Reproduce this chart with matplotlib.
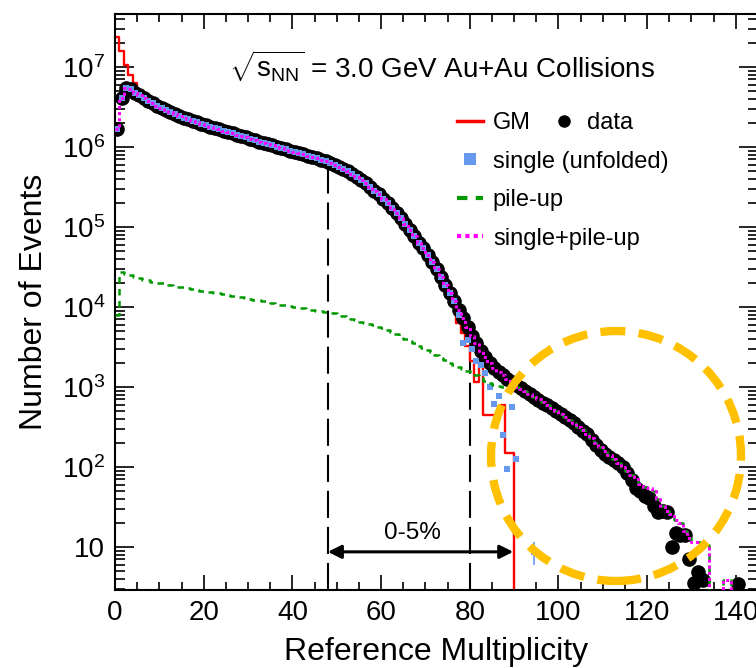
import numpy as np
import matplotlib.pyplot as plt
from matplotlib.lines import Line2D
from matplotlib.patches import Ellipse
from matplotlib.ticker import FixedLocator, FixedFormatter, MultipleLocator, LogLocator

plt.rcParams['font.family'] = ['Liberation Sans', 'DejaVu Sans']
plt.rcParams['mathtext.fontset'] = 'custom'
plt.rcParams['mathtext.rm'] = 'Liberation Sans'
plt.rcParams['mathtext.it'] = 'Liberation Sans:italic'
plt.rcParams['mathtext.bf'] = 'Liberation Sans:bold'

nan = np.nan

# measured refmult distribution, one value per unit bin (0..140)
data_counts = [
    1.7e6, 4.1e6, 5.4e6, 5.3e6, 4.8e6, 4.5e6, 4.15e6, 3.8e6, 3.5e6, 3.25e6,
    3.05e6, 2.88e6, 2.72e6, 2.57e6, 2.45e6, 2.33e6, 2.22e6, 2.12e6, 2.03e6, 1.95e6,
    1.87e6, 1.8e6, 1.73e6, 1.66e6, 1.6e6, 1.54e6, 1.48e6, 1.42e6, 1.37e6, 1.32e6,
    1.27e6, 1.22e6, 1.17e6, 1.13e6, 1.09e6, 1.05e6, 1.01e6, 9.7e5, 9.35e5, 9.0e5,
    8.7e5, 8.4e5, 8.1e5, 7.8e5, 7.5e5, 7.2e5, 6.9e5, 6.6e5, 6.3e5, 6.0e5,
    5.65e5, 5.3e5, 4.95e5, 4.6e5, 4.25e5, 3.9e5, 3.55e5, 3.2e5, 2.85e5, 2.55e5,
    2.25e5, 2.0e5, 1.75e5, 1.5e5, 1.3e5, 1.1e5, 9.2e4, 7.7e4, 6.4e4, 5.4e4,
    4.5e4, 3.7e4, 3.0e4, 2.4e4, 1.9e4, 1.5e4, 1.2e4, 9.2e3, 7.2e3, 5.6e3,
    4.4e3, 3.5e3, 2.8e3, 2.35e3, 2.0e3, 1.75e3, 1.55e3, 1.4e3, 1.27e3, 1.15e3,
    1.05e3, 960, 880, 810, 750, 690, 640, 590, 545, 500,
    460, 420, 385, 350, 315, 285, 255, 220, 190, 165,
    145, 132, 122, 112, 100, 84, 69, 55, 50, 44,
    41, 33, 27, 28, 27, 10, 15, 14, 14, 7,
    3.5, 4.9, 3.9, nan, nan, nan, nan, nan, nan, nan,
    3.4,
]

# Glauber model (GM): first bins and the high-multiplicity end differ from data
gm_head = [2.4e7, 1.6e7, 1.05e7, 7.9e6, 6.3e6, 5.2e6, 4.4e6]
gm_tail = [6.3e3, 4.7e3, 3.3e3, 2.1e3, 1.15e3, 2.0e3, 450, 450, 450, 450, 600, 150, 150]
gm_counts = gm_head + data_counts[7:77] + gm_tail + [0] * 55

# single collisions (unfolded): follows data up to bin 76
single_tail = [8.0e3, 3.5e3, 3.9e3, 3.0e3, 2.1e3, 1.9e3, 1.5e3, 1.0e3, 620, 780,
               250, 95, 560, 125, nan, nan, nan, 8.7]
single_counts = data_counts[:77] + single_tail

# pile-up contribution, bins 0..89
pileup_head = [
    8.0e3, 2.7e4, 2.6e4, 2.5e4, 2.4e4, 2.3e4, 2.2e4, 2.15e4, 2.08e4, 2.02e4,
    1.97e4, 1.92e4, 1.88e4, 1.84e4, 1.8e4, 1.76e4, 1.72e4, 1.68e4, 1.64e4, 1.6e4,
    1.57e4, 1.54e4, 1.51e4, 1.48e4, 1.45e4, 1.42e4, 1.39e4, 1.36e4, 1.33e4, 1.3e4,
    1.27e4, 1.24e4, 1.21e4, 1.18e4, 1.15e4, 1.12e4, 1.1e4, 1.07e4, 1.05e4, 1.02e4,
    1.0e4, 9.8e3, 9.6e3, 9.4e3, 9.2e3, 9.0e3, 8.85e3, 8.7e3, 8.55e3, 8.3e3,
    8.0e3, 7.7e3, 7.4e3, 7.1e3, 6.8e3, 6.5e3, 6.3e3, 6.1e3, 5.9e3, 5.7e3,
    5.5e3, 5.2e3, 4.9e3, 4.6e3, 4.3e3, 4.0e3, 3.75e3, 3.5e3, 3.3e3, 3.1e3,
    2.9e3, 2.7e3, 2.5e3, 2.3e3, 2.15e3, 2.0e3, 1.88e3, 1.77e3, 1.67e3, 1.58e3,
    1.5e3, 1.4e3, 1.3e3, 1.2e3, 1.12e3, 1.06e3, 1.02e3, 990, 960, 930,
]

# above bin 90 single+pile-up is pile-up only
sum_tail = [
    1.0e3, 950, 880, 820, 760, 700, 650, 600, 550, 505,
    465, 425, 390, 355, 320, 290, 260, 230, 200, 178,
    158, 140, 125, 112, 100, 90, 80, 70, 62, 56,
    55, 50, 40, 33, 28, 26, 22, 20, 16, 13,
    11.5, 11.5, 10.5, 10.5, 0, 0, 0, 3.9, 3.9, 0,
    0, 0, 0, 0, 0,
]
pileup_counts = pileup_head + sum_tail
sum_counts = data_counts[:90] + sum_tail

x_ticks = [0, 20, 40, 60, 80, 100, 120, 140]
y_ticks = [10, 1e2, 1e3, 1e4, 1e5, 1e6, 1e7]
y_labels = ['10', r'$10^{2}$', r'$10^{3}$', r'$10^{4}$', r'$10^{5}$', r'$10^{6}$', r'$10^{7}$']

cut_central = 48      # 0-5% lower edge
cut_ten = 80
arrow_end = 89.8

c_red = '#ff0000'
c_blue = '#6699ee'
c_green = '#009900'
c_mag = '#ff00ff'


def hist_line(ax, vals, **kw):
    vals = np.asarray(vals, dtype=float)
    edges = np.arange(len(vals) + 1)
    ax.step(edges, np.append(vals, vals[-1]), where='post', **kw)


fig = plt.figure(figsize=(7.56, 6.68), dpi=100)
ax = fig.add_axes([115 / 756, 1 - 590 / 668, 643 / 756, 576 / 668])
ax.set_yscale('log', nonpositive='clip')

hist_line(ax, gm_counts, color=c_red, lw=1.7, zorder=2)
centers = np.arange(len(data_counts)) + 0.5
ax.plot(centers, data_counts, 'o', color='black', ms=9.5, zorder=3)
s_centers = np.arange(len(single_counts)) + 0.5
ax.plot(s_centers, single_counts, 's', color=c_blue, ms=4, mew=0, zorder=4)
ax.errorbar([94.5], [8.7], yerr=[[2.7], [2.8]], fmt='none', ecolor=c_blue, lw=1.2, zorder=4)
hist_line(ax, pileup_counts, color=c_green, lw=1.8, ls=(0, (2.6, 2.2)), zorder=5)
hist_line(ax, sum_counts, color=c_mag, lw=2.2, ls=(0, (1, 1)), zorder=6)

ax.set_xlim(0, 145)
ax.set_ylim(2.9, 4.6e7)

# centrality cut lines
ax.plot([cut_central, cut_central], [2.9, data_counts[cut_central]], color='black',
        lw=1.5, ls=(0, (13, 4.3)), zorder=1)
ax.plot([cut_ten, cut_ten], [2.9, 5.5e3], color='black', lw=1.5, ls=(0, (13, 4.3)), zorder=1)
ax.annotate('', xy=(cut_central, 8.7), xytext=(arrow_end, 8.7),
            arrowprops=dict(arrowstyle='<|-|>', color='black', lw=2.2,
                            mutation_scale=20, shrinkA=0, shrinkB=0))
ax.text(67, 15, '0-5%', ha='center', va='center', fontsize=17.5)

# ticks
ax.xaxis.set_major_locator(FixedLocator(x_ticks))
ax.xaxis.set_minor_locator(MultipleLocator(5))
ax.yaxis.set_major_locator(FixedLocator(y_ticks))
ax.yaxis.set_major_formatter(FixedFormatter(y_labels))
ax.yaxis.set_minor_locator(LogLocator(base=10, subs=np.arange(2, 10)))
ax.tick_params(which='both', direction='in', top=True, right=True, labelsize=20, width=1.2)
ax.tick_params(axis='x', which='major', length=11, pad=7)
ax.tick_params(axis='x', which='minor', length=5.5)
ax.tick_params(axis='y', which='major', length=13.5, pad=7)
ax.tick_params(axis='y', which='minor', length=7)
for sp in ax.spines.values():
    sp.set_linewidth(1.5)

ax.set_xlabel('Reference Multiplicity', fontsize=23, labelpad=8)
ax.set_ylabel('Number of Events', fontsize=23, labelpad=9)

fig.text(442 / 756, 1 - 66 / 668, r'$\sqrt{\mathrm{s}_{\mathrm{NN}}}$ = 3.0 GeV Au+Au Collisions',
         ha='center', va='center', fontsize=20)

# legend
handles = [
    Line2D([], [], color=c_red, lw=2.5),
    Line2D([], [], ls='none', marker='s', color=c_blue, ms=8, mew=0),
    Line2D([], [], color=c_green, lw=3, ls=(0, (2.5, 2))),
    Line2D([], [], color=c_mag, lw=3, ls=(0, (1, 1))),
]
labels = ['GM', 'single (unfolded)', 'pile-up', 'single+pile-up']
leg1 = ax.legend(handles, labels, loc='upper left', bbox_to_anchor=(457 / 756, 1 - 112 / 668),
                 bbox_transform=fig.transFigure, frameon=False, fontsize=17,
                 handlelength=1.1, handletextpad=0.42, labelspacing=0.7,
                 borderpad=0, borderaxespad=0)
ax.add_artist(leg1)
ax.legend([Line2D([], [], ls='none', marker='o', color='black', ms=8)], ['data'],
          loc='upper left', bbox_to_anchor=(551 / 756, 1 - 112 / 668),
          bbox_transform=fig.transFigure, frameon=False, fontsize=17,
          handlelength=1.1, handletextpad=0.42, borderpad=0, borderaxespad=0)

# highlight circle
circ = Ellipse((616 / 756, 1 - 456 / 668), 250 / 756, 250 / 668, transform=fig.transFigure,
               fill=False, ec='#ffc000', lw=6, ls=(0, (3.0, 1.6)), clip_on=False, zorder=10)
fig.add_artist(circ)

fig.savefig('out.png', dpi=100)
